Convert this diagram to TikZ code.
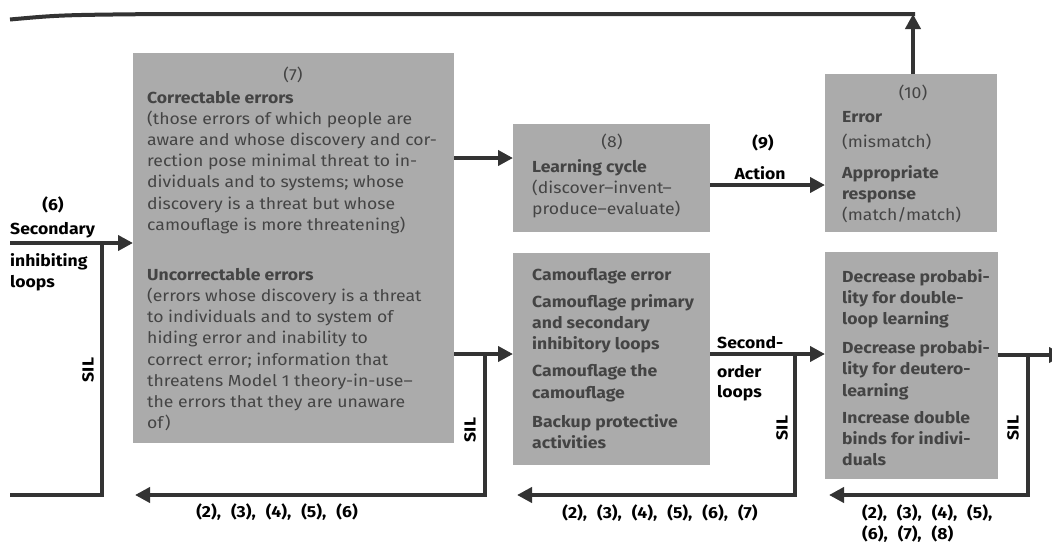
\documentclass[tikz,border=0pt]{standalone}
\usepackage{fontspec}
\setmainfont{Fira Sans}[FakeStretch=1.1]
\usetikzlibrary{arrows.meta,calc}
\definecolor{boxgrey}{HTML}{ABABAB}
\definecolor{boxtext}{HTML}{444444}
\definecolor{linegrey}{HTML}{333333}
\newcommand{\bxt}[2]{\parbox[t]{#1}{\raggedright #2}}
\newcommand{\lgap}{\hspace{10pt}}
\tikzset{
  greybox/.style={fill=boxgrey, draw=none, inner sep=0pt, anchor=north west},
  intext/.style={inner sep=0pt, anchor=base west, text=boxtext, font=\fontsize{16}{21.2}\selectfont},
  numtext/.style={inner sep=0pt, anchor=base, text=boxtext, font=\fontsize{16}{21.2}\selectfont},
  lbl/.style={inner sep=0pt, text=black, font=\bfseries\fontsize{16}{20}\selectfont},
  conn/.style={draw=linegrey, line width=4pt},
  arr/.style={conn, -{Triangle[length=15pt,width=15pt]}},
}
\begin{document}
\begin{tikzpicture}[x=1pt,y=-1pt]
\useasboundingbox[fill=white] (0,0) rectangle (1052,546);

% boxes
\node[greybox, minimum width=321pt, minimum height=390pt] (b7) at (133,53) {};
\node[greybox, minimum width=197pt, minimum height=108pt] (b8) at (513,124) {};
\node[greybox, minimum width=197pt, minimum height=212pt] (b9) at (513,253) {};
\node[greybox, minimum width=172pt, minimum height=158pt] (b10) at (825,74) {};
\node[greybox, minimum width=173pt, minimum height=227pt] (b11) at (825,252) {};

% box 7 text
\node[numtext] (n7) at (293,80) {(7)};
\node[intext] (t7) at (147,103) {\bxt{310pt}{\bfseries Correctable errors\\\mdseries
(those errors of which people are\\
aware and whose discovery and cor-\\
rection pose minimal threat to in-\\
dividuals and to systems; whose\\
discovery is a threat but whose\\
camouflage is more threatening)\\[28.8pt]
\bfseries Uncorrectable errors\\\mdseries
(errors whose discovery is a threat\\
to individuals and to system of\\
hiding error and inability to\\
correct error; information that\\
threatens Model 1 theory-in-use--\\
the errors that they are unaware\\
of)}};

% box 8 text
\node[numtext] (n8) at (612,147) {(8)};
\node[intext] (t8) at (532,172) {\bxt{180pt}{\bfseries Learning cycle\\\mdseries
(discover--invent--\\
produce--evaluate)}};

% box 9 text
\node[intext] (t9) at (532,280) {\bxt{180pt}{\bfseries Camouflage error\\[6pt]
Camouflage primary\\
and secondary\\
inhibitory loops\\[6pt]
Camouflage the\\
camouflage\\[8pt]
Backup protective\\
activities}};

% box 10 text
\node[numtext] (n10) at (913,98) {(10)};
\node[intext] (t10) at (842,122) {\bxt{150pt}{\bfseries Error\\[4pt]\mdseries
(mismatch)\\[10pt]
\bfseries Appropriate\\
response\\\mdseries
(match/match)}};

% box 11 text
\node[intext] (t11) at (842,282) {\bxt{160pt}{\bfseries Decrease probabi-\\
lity for double-\\
loop learning\\[8pt]
Decrease probabi-\\
lity for deutero-\\
learning\\[6pt]
Increase double\\
binds for indivi-\\
duals}};

% left labels
\node[lbl, anchor=base] (l6) at (53,210) {(6)};
\node[lbl, anchor=base west] (lsec) at (10,234) {Secondary};
\node[lbl, anchor=base west] (linh) at (10,266) {inhibiting};
\node[lbl, anchor=base west] (lloo) at (10,287) {loops};

% coordinates
\coordinate (a6) at (10,243);
\coordinate (l1) at (102,243);
\coordinate (l2) at (102,495);
\coordinate (l3) at (10,495);
\coordinate (c78) at (454,158);
\coordinate (c810) at (710,185);
\coordinate (c10t) at (913,74);
\coordinate (top1) at (913,14);
\coordinate (topL) at (10,19.5);
\coordinate (c79) at (454,354);
\coordinate (f1a) at (485,354);
\coordinate (f1b) at (485,495);
\coordinate (f1c) at (135,495);
\coordinate (c911) at (710,354);
\coordinate (f2a) at (795,354);
\coordinate (f2b) at (795,495);
\coordinate (f2c) at (517,495);
\coordinate (c11r) at (998,355);
\coordinate (rout) at (1064,355);
\coordinate (f3a) at (1028,355);
\coordinate (f3b) at (1028,495);
\coordinate (f3c) at (829,495);

% connectors
\draw[arr] (a6) -- (a6 -| b7.west);
\draw[conn] (l1) -- (l2) -- (l3);
\draw[arr] (c78) -- (c78 -| b8.west);
\draw[arr] (c810) -- (c810 -| b10.west);
\draw[arr] (c10t) -- (top1);
\draw[conn] (topL) .. controls (60,15) .. (160,14) -- ([xshift=2pt]top1);
\draw[arr] (c79) -- (c79 -| b9.west);
\draw[arr] (f1a) -- (f1b) -- (f1c);
\draw[arr] (c911) -- (c911 -| b11.west);
\draw[arr] (f2a) -- (f2b) -- (f2c);
\draw[arr] (c11r) -- (rout);
\draw[arr] (f3a) -- (f3b) -- (f3c);

% connector labels
\node[lbl] (l9) at (763,143) {(9)};
\node[lbl] (lact) at (760,173) {Action};
\node[lbl, anchor=base west] (lsecond) at (717,348) {Second-};
\node[lbl, anchor=base west] (lorder) at (717,377) {order};
\node[lbl, anchor=base west] (lloops) at (717,397) {loops};
\node[lbl, rotate=90] (sil1) at (88,370) {SIL};
\node[lbl, rotate=90] (sil2) at (470,430) {SIL};
\node[lbl, rotate=90] (sil3) at (782,428) {SIL};
\node[lbl, rotate=90] (sil4) at (1013,428) {SIL};
\node[lbl] (fb1) at (277,512) {(2),\lgap(3),\lgap(4),\lgap(5),\lgap(6)};
\node[lbl] (fb2) at (660,513) {(2),\lgap(3),\lgap(4),\lgap(5),\lgap(6),\lgap(7)};
\node[lbl, anchor=base west] (fb3a) at (862,518) {(2),\lgap(3),\lgap(4),\lgap(5),};
\node[lbl, anchor=base west] (fb3b) at (862,539) {(6),\lgap(7),\lgap(8)};
\end{tikzpicture}
\end{document}
